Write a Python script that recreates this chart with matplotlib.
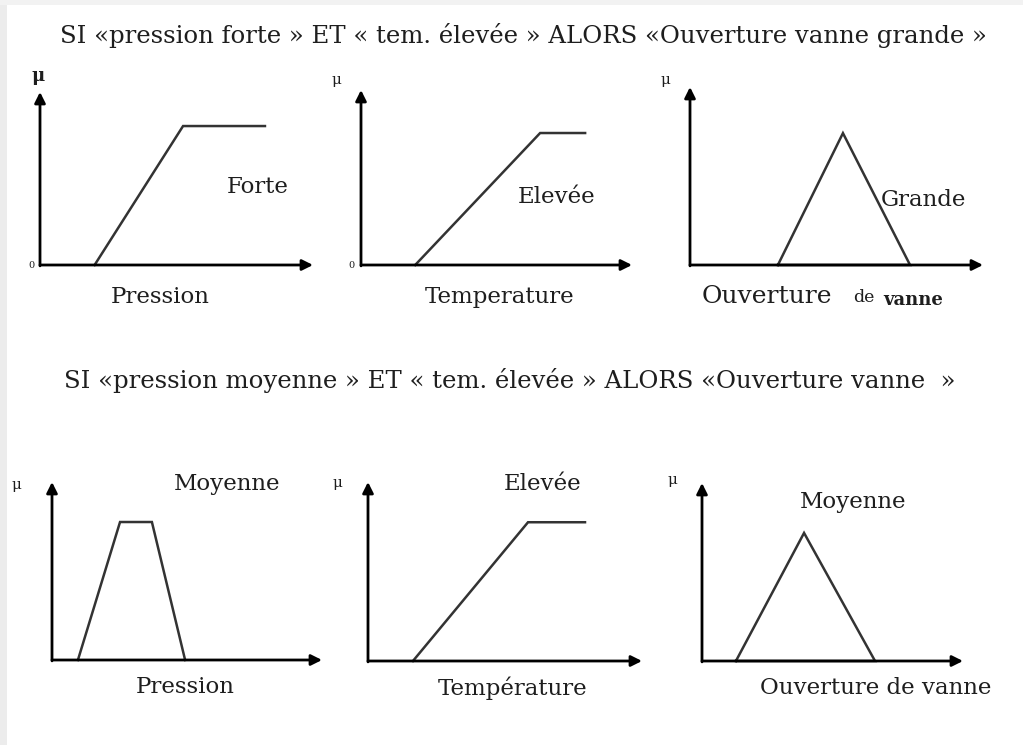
import matplotlib.pyplot as plt
from matplotlib.patches import Rectangle

W, H = 1023, 745

# rules
rule1 = "SI «pression forte » ET « tem. élevée » ALORS «Ouverture vanne grande »"
rule2 = "SI «pression moyenne » ET « tem. élevée » ALORS «Ouverture vanne  »"

# membership functions, x on a 0-10 universe, mu on 0-1
forte_x = [2.0, 5.24, 8.24]
forte_mu = [0, 1, 1]
elevee_x = [2.0, 6.61, 8.27]
elevee_mu = [0, 1, 1]
grande_x = [3.0, 5.22, 7.51, 3.0]
grande_mu = [0, 1, 0, 0]
moy_p_x = [0.96, 2.52, 3.70, 4.93]
moy_p_mu = [0, 1, 1, 0]
elevee2_x = [1.64, 5.84, 7.92]
elevee2_mu = [0, 1, 1]
moy_v_x = [1.30, 3.91, 6.63, 1.30]
moy_v_mu = [0, 1, 0, 0]

curves = [(forte_x, forte_mu), (elevee_x, elevee_mu), (grande_x, grande_mu),
          (moy_p_x, moy_p_mu), (elevee2_x, elevee2_mu), (moy_v_x, moy_v_mu)]
mu_top = [1.245, 1.326, 1.35, 1.29, 1.29, 1.39]

# axes boxes in pixels: left, top, right, bottom
boxes = [(40, 92, 313, 265), (361, 90, 632, 265), (690, 87, 983, 265),
         (52, 482, 322, 660), (368, 482, 642, 661), (702, 483, 963, 661)]

fig = plt.figure(figsize=(W / 100, H / 100), dpi=100)
fig.patch.set_facecolor('white')
fig.patches.append(Rectangle((0, 0), 7 / W, 1, transform=fig.transFigure,
                             facecolor='#ececec', edgecolor='none', zorder=0))
fig.patches.append(Rectangle((0, 1 - 5 / H), 1, 5 / H, transform=fig.transFigure,
                             facecolor='#f2f2f2', edgecolor='none', zorder=0))

serif = ['DejaVu Serif']


def ftext(x, y, s, size=14, **kw):
    kw.setdefault('ha', 'center')
    kw.setdefault('va', 'center')
    fig.text(x / W, 1 - y / H, s, fontsize=size, family=serif, color='#1e1e1e', **kw)


for (l, t, r, b), (xs, mus), top in zip(boxes, curves, mu_top):
    ax = fig.add_axes([l / W, 1 - b / H, (r - l) / W, (b - t) / H])
    ax.set_xlim(0, 10)
    ax.set_ylim(0, top)
    ax.axis('off')
    ax.plot(xs, mus, color='#333333', lw=1.8, clip_on=False, solid_joinstyle='miter')
    arrow = dict(arrowstyle='-|>', lw=2.0, color='black', mutation_scale=16,
                 shrinkA=0, shrinkB=0)
    ax.annotate('', xy=(1, 0), xytext=(0, 0), xycoords='axes fraction', arrowprops=arrow)
    ax.annotate('', xy=(0, 1), xytext=(0, -0.005), xycoords='axes fraction', arrowprops=arrow)

ftext(523, 36, rule1, 17.6)
ftext(510, 380, rule2, 17.6)

# top row labels
ftext(38, 76, 'μ', 13, weight='bold')
ftext(31, 265, '0', 7)
ftext(258, 187, 'Forte', 16.5)
ftext(160, 297, 'Pression', 16.5)

ftext(336, 80, 'μ', 11)
ftext(351, 265, '0', 7)
ftext(557, 197, 'Elevée', 16.5)
ftext(500, 297, 'Temperature', 16.5)

ftext(665, 80, 'μ', 11)
ftext(923, 200, 'Grande', 16.5)
ftext(702, 297, 'Ouverture', 18, ha='left')
ftext(853, 298, 'de', 12.5, ha='left')
ftext(883, 300, 'vanne', 13, ha='left', weight='bold')

# bottom row labels
ftext(16, 485, 'μ', 11)
ftext(227, 484, 'Moyenne', 16.5)
ftext(185, 687, 'Pression', 16.5)

ftext(337, 483, 'μ', 11)
ftext(543, 484, 'Elevée', 16.5)
ftext(513, 688, 'Température', 16.5)

ftext(672, 480, 'μ', 11)
ftext(853, 502, 'Moyenne', 16.5)
ftext(876, 688, 'Ouverture de vanne', 16.5)

fig.savefig('out.png', dpi=100, facecolor='white')
